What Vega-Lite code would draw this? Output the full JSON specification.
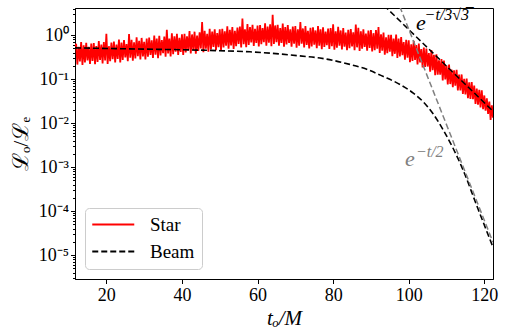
{
  "$schema": "https://vega.github.io/schema/vega-lite/v6.json",
  "width": 418,
  "height": 271,
  "autosize": {"type": "none"},
  "padding": {"left": 75, "top": 8, "right": 13, "bottom": 57},
  "background": "#ffffff",
  "config": {
    "font": "Liberation Serif",
    "view": {"stroke": "#000000", "strokeWidth": 1},
    "axis": {
      "grid": false, "domainColor": "#000000", "tickColor": "#000000",
      "labelColor": "#000000", "titleColor": "#000000",
      "labelFont": "Liberation Serif", "titleFont": "Liberation Serif",
      "labelFontSize": 18, "titleFontSize": 21, "titleFontWeight": "normal",
      "tickSize": 4.5, "tickWidth": 1, "domainWidth": 1
    }
  },
  "datasets": {
    "star": [
      {"t":11.7,"v":0.55},
      {"t":12,"v":0.632},{"t":12.33,"v":0.213},{"t":12.67,"v":0.539},
      {"t":13,"v":0.251},{"t":13.33,"v":0.696},{"t":13.67,"v":0.209},
      {"t":14,"v":0.587},{"t":14.33,"v":0.237},{"t":14.67,"v":0.663},
      {"t":15,"v":0.264},{"t":15.33,"v":0.536},{"t":15.67,"v":0.219},
      {"t":16,"v":0.637},{"t":16.33,"v":0.257},{"t":16.67,"v":0.656},
      {"t":17,"v":0.216},{"t":17.33,"v":0.564},{"t":17.67,"v":0.243},
      {"t":18,"v":0.725},{"t":18.33,"v":0.27},{"t":18.67,"v":0.608},
      {"t":19,"v":0.226},{"t":19.33,"v":0.691},{"t":19.67,"v":0.263},
      {"t":20,"v":1.07},{"t":20.33,"v":0.221},{"t":20.67,"v":0.557},
      {"t":21,"v":0.254},{"t":21.33,"v":0.672},{"t":21.67,"v":0.281},
      {"t":22,"v":0.709},{"t":22.33,"v":0.238},{"t":22.67,"v":0.605},
      {"t":23,"v":0.285},{"t":23.33,"v":0.79},{"t":23.67,"v":0.237},
      {"t":24,"v":0.677},{"t":24.33,"v":0.273},{"t":24.67,"v":0.765},
      {"t":25,"v":0.308},{"t":25.33,"v":0.626},{"t":25.67,"v":0.255},
      {"t":26,"v":1.05},{"t":26.33,"v":0.305},{"t":26.67,"v":0.777},
      {"t":27,"v":0.26},{"t":27.33,"v":0.679},{"t":27.67,"v":0.293},
      {"t":28,"v":0.886},{"t":28.33,"v":0.33},{"t":28.67,"v":0.742},
      {"t":29,"v":0.28},{"t":29.33,"v":0.858},{"t":29.67,"v":0.327},
      {"t":30,"v":0.701},{"t":30.33,"v":0.278},{"t":30.67,"v":0.827},
      {"t":31,"v":0.321},{"t":31.33,"v":0.872},{"t":31.67,"v":0.354},
      {"t":32,"v":0.761},{"t":32.33,"v":0.3},{"t":32.67,"v":0.971},
      {"t":33,"v":0.358},{"t":33.33,"v":0.832},{"t":33.67,"v":0.298},
      {"t":34,"v":0.963},{"t":34.33,"v":0.344},{"t":34.67,"v":0.77},
      {"t":35,"v":0.388},{"t":35.33,"v":0.927},{"t":35.67,"v":0.321},
      {"t":36,"v":1.32},{"t":36.33,"v":0.383},{"t":36.67,"v":0.834},
      {"t":37,"v":0.327},{"t":37.33,"v":1.09},{"t":37.67,"v":0.368},
      {"t":38,"v":0.935},{"t":38.33,"v":0.416},{"t":38.67,"v":1.06},
      {"t":39,"v":0.353},{"t":39.33,"v":0.864},{"t":39.67,"v":0.411},
      {"t":40,"v":1.04},{"t":40.33,"v":0.351},{"t":40.67,"v":1.07},
      {"t":41,"v":0.404},{"t":41.33,"v":0.938},{"t":41.67,"v":0.446},
      {"t":42,"v":1.23},{"t":42.33,"v":0.379},{"t":42.67,"v":1.03},
      {"t":43,"v":0.454},{"t":43.33,"v":1.19},{"t":43.67,"v":0.378},
      {"t":44,"v":0.977},{"t":44.33,"v":0.436},{"t":44.67,"v":1.15},
      {"t":45,"v":0.494},{"t":45.33,"v":1.97},{"t":45.67,"v":0.409},
      {"t":46,"v":1.25},{"t":46.33,"v":0.489},{"t":46.67,"v":1.06},
      {"t":47,"v":0.418},{"t":47.33,"v":1.39},{"t":47.67,"v":0.471},
      {"t":48,"v":1.2},{"t":48.33,"v":0.533},{"t":48.67,"v":1.35},
      {"t":49,"v":0.453},{"t":49.33,"v":1.11},{"t":49.67,"v":0.529},
      {"t":50,"v":1.34},{"t":50.33,"v":0.452},{"t":50.67,"v":1.38},
      {"t":51,"v":0.52},{"t":51.33,"v":1.21},{"t":51.67,"v":0.574},
      {"t":52,"v":1.57},{"t":52.33,"v":0.486},{"t":52.67,"v":1.32},
      {"t":53,"v":0.581},{"t":53.33,"v":1.52},{"t":53.67,"v":0.484},
      {"t":54,"v":1.25},{"t":54.33,"v":0.557},{"t":54.67,"v":1.47},
      {"t":55,"v":0.629},{"t":55.33,"v":1.55},{"t":55.67,"v":0.521},
      {"t":56,"v":2.38},{"t":56.33,"v":0.622},{"t":56.67,"v":1.35},
      {"t":57,"v":0.531},{"t":57.33,"v":1.77},{"t":57.67,"v":0.597},
      {"t":58,"v":1.51},{"t":58.33,"v":0.674},{"t":58.67,"v":1.71},
      {"t":59,"v":0.563},{"t":59.33,"v":1.38},{"t":59.67,"v":0.657},
      {"t":60,"v":1.63},{"t":60.33,"v":0.55},{"t":60.67,"v":1.68},
      {"t":61,"v":0.622},{"t":61.33,"v":1.44},{"t":61.67,"v":0.686},
      {"t":62,"v":1.85},{"t":62.33,"v":0.571},{"t":62.67,"v":1.55},
      {"t":63,"v":0.667},{"t":63.33,"v":1.75},{"t":63.67,"v":0.556},
      {"t":64,"v":2.9},{"t":64.33,"v":0.625},{"t":64.67,"v":1.65},
      {"t":65,"v":0.69},{"t":65.33,"v":1.7},{"t":65.67,"v":0.571},
      {"t":66,"v":1.43},{"t":66.33,"v":0.657},{"t":66.67,"v":1.82},
      {"t":67,"v":0.54},{"t":67.33,"v":1.51},{"t":67.67,"v":0.608},
      {"t":68,"v":1.68},{"t":68.33,"v":0.661},{"t":68.67,"v":1.34},
      {"t":69,"v":0.541},{"t":69.33,"v":1.56},{"t":69.67,"v":0.631},
      {"t":70,"v":1.59},{"t":70.33,"v":0.518},{"t":70.67,"v":1.35},
      {"t":71,"v":0.575},{"t":71.33,"v":1.98},{"t":71.67,"v":0.634},
      {"t":72,"v":1.41},{"t":72.33,"v":0.519},{"t":72.67,"v":1.59},
      {"t":73,"v":0.597},{"t":73.33,"v":1.25},{"t":73.67,"v":0.497},
      {"t":74,"v":1.46},{"t":74.33,"v":0.552},{"t":74.67,"v":1.5},
      {"t":75,"v":0.602},{"t":75.33,"v":1.27},{"t":75.67,"v":0.499},
      {"t":76,"v":1.6},{"t":76.33,"v":0.575},{"t":76.67,"v":1.34},
      {"t":77,"v":0.475},{"t":77.33,"v":1.5},{"t":77.67,"v":0.534},
      {"t":78,"v":1.19},{"t":78.33,"v":0.584},{"t":78.67,"v":1.4},
      {"t":79,"v":0.48},{"t":79.33,"v":1.43},{"t":79.67,"v":0.56},
      {"t":80,"v":1.75},{"t":80.33,"v":0.462},{"t":80.67,"v":1.21},
      {"t":81,"v":0.516},{"t":81.33,"v":1.53},{"t":81.67,"v":0.569},
      {"t":82,"v":1.27},{"t":82.33,"v":0.467},{"t":82.67,"v":1.43},
      {"t":83,"v":0.54},{"t":83.33,"v":1.13},{"t":83.67,"v":0.45},
      {"t":84,"v":1.32},{"t":84.33,"v":0.501},{"t":84.67,"v":1.36},
      {"t":85,"v":0.548},{"t":85.33,"v":1.15},{"t":85.67,"v":0.454},
      {"t":86,"v":1.73},{"t":86.33,"v":0.525},{"t":86.67,"v":1.46},
      {"t":87,"v":0.433},{"t":87.33,"v":1.21},{"t":87.67,"v":0.488},
      {"t":88,"v":1.35},{"t":88.33,"v":0.533},{"t":88.67,"v":1.08},
      {"t":89,"v":0.438},{"t":89.33,"v":1.26},{"t":89.67,"v":0.511},
      {"t":90,"v":1.29},{"t":90.33,"v":0.422},{"t":90.67,"v":1.1},
      {"t":91,"v":0.453},{"t":91.33,"v":1.3},{"t":91.67,"v":0.487},
      {"t":92,"v":1.52},{"t":92.33,"v":0.39},{"t":92.67,"v":1.04},
      {"t":93,"v":0.441},{"t":93.33,"v":1.14},{"t":93.67,"v":0.356},
      {"t":94,"v":0.883},{"t":94.33,"v":0.388},{"t":94.67,"v":1.01},
      {"t":95,"v":0.416},{"t":95.33,"v":1.01},{"t":95.67,"v":0.332},
      {"t":96,"v":0.828},{"t":96.33,"v":0.374},{"t":96.67,"v":1.02},
      {"t":97,"v":0.301},{"t":97.33,"v":0.826},{"t":97.67,"v":0.327},
      {"t":98,"v":0.9},{"t":98.33,"v":0.347},{"t":98.67,"v":0.69},
      {"t":99,"v":0.275},{"t":99.33,"v":0.777},{"t":99.67,"v":0.306},
      {"t":100,"v":0.76},{"t":100.33,"v":0.242},{"t":100.67,"v":0.616},
      {"t":101,"v":0.259},{"t":101.33,"v":0.743},{"t":101.67,"v":0.27},
      {"t":102,"v":0.594},{"t":102.33,"v":0.214},{"t":102.67,"v":0.637},
      {"t":103,"v":0.237},{"t":103.33,"v":0.48},{"t":103.67,"v":0.184},
      {"t":104,"v":0.52},{"t":104.33,"v":0.188},{"t":104.67,"v":0.492},
      {"t":105,"v":0.192},{"t":105.33,"v":0.389},{"t":105.67,"v":0.147},
      {"t":106,"v":0.457},{"t":106.33,"v":0.159},{"t":106.67,"v":0.355},
      {"t":107,"v":0.122},{"t":107.33,"v":0.366},{"t":107.67,"v":0.125},
      {"t":108,"v":0.267},{"t":108.33,"v":0.125},{"t":108.67,"v":0.284},
      {"t":109,"v":0.0926},{"t":109.33,"v":0.261},{"t":109.67,"v":0.0977},
      {"t":110,"v":0.202},{"t":110.33,"v":0.0757},{"t":110.67,"v":0.214},
      {"t":111,"v":0.0768},{"t":111.33,"v":0.164},{"t":111.67,"v":0.0651},
      {"t":112,"v":0.158},{"t":112.33,"v":0.0701},{"t":112.67,"v":0.161},
      {"t":113,"v":0.0552},{"t":113.33,"v":0.126},{"t":113.67,"v":0.0553},
      {"t":114,"v":0.127},{"t":114.33,"v":0.0457},{"t":114.67,"v":0.101},
      {"t":115,"v":0.0445},{"t":115.33,"v":0.102},{"t":115.67,"v":0.0368},
      {"t":116,"v":0.0838},{"t":116.33,"v":0.0352},{"t":116.67,"v":0.0852},
      {"t":117,"v":0.0347},{"t":117.33,"v":0.0711},{"t":117.67,"v":0.0271},
      {"t":118,"v":0.0609},{"t":118.33,"v":0.0262},{"t":118.67,"v":0.0571},
      {"t":119,"v":0.0226},{"t":119.33,"v":0.0557},{"t":119.67,"v":0.0206},
      {"t":120,"v":0.0423},{"t":120.33,"v":0.019},{"t":120.67,"v":0.0363},
      {"t":121,"v":0.0161},{"t":121.33,"v":0.0308},{"t":121.67,"v":0.0118},
      {"t":122,"v":0.0251},{"t":122.3,"v":0.0132}
    ],
    "beam": [
      {"t":11.7,"v":0.51},{"t":20,"v":0.495},{"t":30,"v":0.478},{"t":40,"v":0.463},
      {"t":50,"v":0.44},{"t":58,"v":0.415},{"t":66,"v":0.37},{"t":71.2,"v":0.335},
      {"t":76.5,"v":0.3},{"t":80,"v":0.265},{"t":84.4,"v":0.215},{"t":88.9,"v":0.166},
      {"t":93.3,"v":0.114},{"t":97.7,"v":0.075},{"t":101.2,"v":0.048},{"t":103.9,"v":0.03},
      {"t":106.5,"v":0.016},{"t":109.2,"v":0.0068},{"t":111.8,"v":0.0026},{"t":114.4,"v":0.00085},
      {"t":117.9,"v":0.00014},{"t":122.3,"v":0.000015}
    ],
    "fitA": [{"t":90,"v":9.08},{"t":122.3,"v":0.0186}],
    "fitB": [{"t":95,"v":16.6},{"t":122.3,"v":0.0000195}]
  },
  "layer": [
    {
      "data": {"name": "star"},
      "mark": {"type": "line", "strokeWidth": 1.8, "clip": true},
      "encoding": {
        "x": {
          "field": "t", "type": "quantitative",
          "scale": {"domain": [11.7, 122.3], "nice": false, "zero": false},
          "axis": {"values": [20, 40, 60, 80, 100, 120], "title": "tₒ/M", "titleFontStyle": "italic", "labelPadding": 3, "titlePadding": 3}
        },
        "y": {
          "field": "v", "type": "quantitative",
          "scale": {"type": "log", "domain": [2.85e-6, 4.11], "nice": false},
          "axis": {
            "orient": "left",
            "values": [0.00001, 0.0001, 0.001, 0.01, 0.1, 1],
            "labelExpr": "'10' + (datum.value >= 0.5 ? '⁰' : '⁻' + ['', '¹', '²', '³', '⁴', '⁵', '⁶'][round(-log(datum.value) / LN10)])",
            "labelPadding": 2,
            "title": "ℒₒ/ℒₑ", "titleFontSize": 22, "titlePadding": 6
          }
        },
        "color": {
          "datum": "Star", "type": "nominal",
          "scale": {"domain": ["Star", "Beam"], "range": ["#ff0000", "#000000"]},
          "legend": {
            "title": null, "orient": "bottom-left", "offset": 10, "padding": 7,
            "cornerRadius": 4, "strokeColor": "#cccccc", "fillColor": "rgba(255,255,255,0.8)",
            "symbolType": "M-2.2,0L7.8,0", "symbolSize": 70.6, "symbolStrokeWidth": 2,
            "labelFontSize": 19, "labelFont": "Liberation Serif", "labelColor": "#000000",
            "labelOffset": 39, "rowPadding": 7
          }
        },
        "strokeDash": {
          "datum": "Star", "type": "nominal",
          "scale": {"domain": ["Star", "Beam"], "range": [[1, 0], [6, 3]]},
          "legend": {
            "title": null, "orient": "bottom-left", "offset": 10, "padding": 7,
            "cornerRadius": 4, "strokeColor": "#cccccc", "fillColor": "rgba(255,255,255,0.8)",
            "symbolType": "M-2.2,0L7.8,0", "symbolSize": 70.6, "symbolStrokeWidth": 2,
            "labelFontSize": 19, "labelFont": "Liberation Serif", "labelColor": "#000000",
            "labelOffset": 39, "rowPadding": 7
          }
        }
      }
    },
    {
      "data": {"name": "beam"},
      "mark": {"type": "line", "strokeWidth": 1.6, "interpolate": "monotone", "clip": true},
      "encoding": {
        "x": {"field": "t", "type": "quantitative"},
        "y": {"field": "v", "type": "quantitative", "axis": null},
        "color": {"datum": "Beam", "type": "nominal"},
        "strokeDash": {"datum": "Beam", "type": "nominal"}
      }
    },
    {
      "data": {"name": "fitA"},
      "mark": {"type": "line", "color": "#000000", "strokeDash": [6, 3], "strokeWidth": 1.5, "clip": true},
      "encoding": {
        "x": {"field": "t", "type": "quantitative"},
        "y": {
          "field": "v", "type": "quantitative",
          "axis": {
            "orient": "left", "labels": false, "title": null, "domain": false, "tickSize": 2.5,
            "values": [0.000003, 0.000004, 0.000005, 0.000006, 0.000007, 0.000008, 0.000009,
              0.00002, 0.00003, 0.00004, 0.00005, 0.00006, 0.00007, 0.00008, 0.00009,
              0.0002, 0.0003, 0.0004, 0.0005, 0.0006, 0.0007, 0.0008, 0.0009,
              0.002, 0.003, 0.004, 0.005, 0.006, 0.007, 0.008, 0.009,
              0.02, 0.03, 0.04, 0.05, 0.06, 0.07, 0.08, 0.09,
              0.2, 0.3, 0.4, 0.5, 0.6, 0.7, 0.8, 0.9, 2, 3, 4]
          }
        }
      }
    },
    {
      "data": {"name": "fitB"},
      "mark": {"type": "line", "color": "#808080", "strokeDash": [6, 3], "strokeWidth": 1.5, "clip": true},
      "encoding": {
        "x": {"field": "t", "type": "quantitative"},
        "y": {"field": "v", "type": "quantitative", "axis": null}
      }
    },
    {
      "data": {"values": [{}]},
      "mark": {"type": "text", "text": "e", "font": "Liberation Serif", "fontStyle": "italic", "fontSize": 22, "align": "left", "baseline": "alphabetic", "color": "#000000"},
      "encoding": {"x": {"datum": 101.9}, "y": {"datum": 1.27, "axis": null}}
    },
    {
      "data": {"values": [{}]},
      "mark": {"type": "text", "text": "−t/3√3̅", "font": "Liberation Serif", "fontStyle": "italic", "fontSize": 16, "align": "left", "baseline": "alphabetic", "color": "#000000"},
      "encoding": {"x": {"datum": 104.2}, "y": {"datum": 2.25, "axis": null}}
    },
    {
      "data": {"values": [{}]},
      "mark": {"type": "text", "text": "e", "font": "Liberation Serif", "fontStyle": "italic", "fontSize": 22, "align": "left", "baseline": "alphabetic", "color": "#808080"},
      "encoding": {"x": {"datum": 99.0}, "y": {"datum": 0.00103, "axis": null}}
    },
    {
      "data": {"values": [{}]},
      "mark": {"type": "text", "text": "−t/2", "font": "Liberation Serif", "fontStyle": "italic", "fontSize": 16, "align": "left", "baseline": "alphabetic", "color": "#808080"},
      "encoding": {"x": {"datum": 101.9}, "y": {"datum": 0.00169, "axis": null}}
    }
  ],
  "resolve": {"axis": {"y": "independent"}}
}
